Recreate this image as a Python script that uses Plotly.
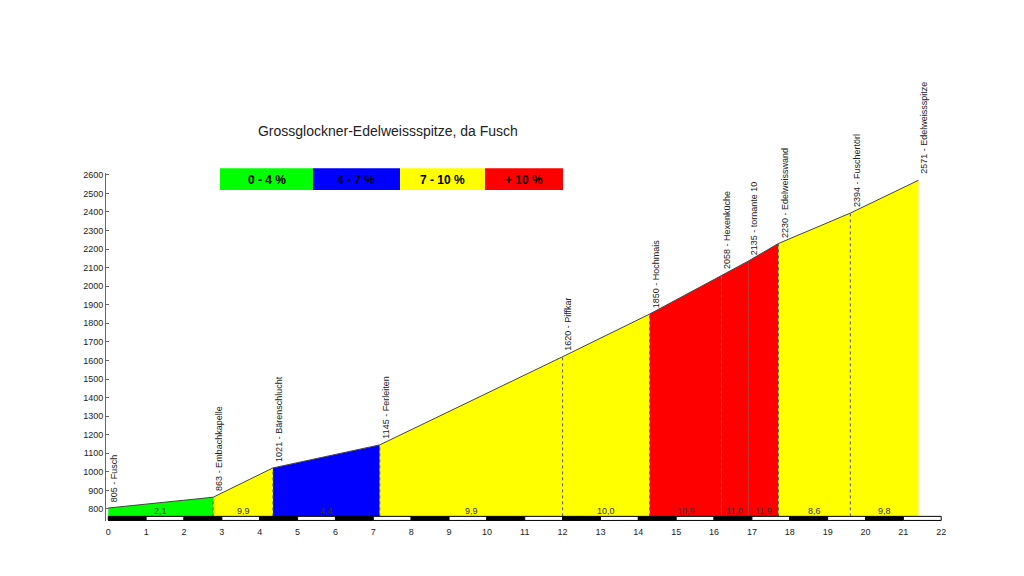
import plotly.graph_objects as go

# --- data ---
km = [0, 2.77, 4.35, 7.17, 12.0, 14.3, 16.2, 16.9, 17.7, 19.6, 21.4]
alt = [805, 863, 1021, 1145, 1620, 1850, 2058, 2135, 2230, 2394, 2571]
places = ["Fusch", "Embachkapelle", "Bärenschlucht", "Ferleiten", "Piffkar", "Hochmais",
          "Hexenküche", "tornante 10", "Edelweisswand", "Fuschertörl", "Edelweissspitze"]
grades = ["2,1", "9,9", "4,4", "9,9", "10,0", "10,9", "11,0", "11,9", "8,6", "9,8"]
seg_class = [0, 2, 1, 2, 2, 3, 3, 3, 2, 2]

class_colors = ["#00ff00", "#0000ff", "#ffff00", "#ff0000"]
class_labels = ["0 - 4 %", "4 - 7 %", "7 - 10 %", "+ 10 %"]
base = 760
x_ticks = list(range(0, 23))
y_ticks = list(range(800, 2700, 100))

fig = go.Figure()

# coloured segments
for i in range(len(grades)):
    fig.add_trace(go.Scatter(
        x=[km[i], km[i], km[i + 1], km[i + 1], km[i]],
        y=[base, alt[i], alt[i + 1], base, base],
        fill="toself", fillcolor=class_colors[seg_class[i]],
        mode="lines", line=dict(width=0), hoverinfo="skip", showlegend=False))

# profile line
fig.add_trace(go.Scatter(x=km, y=alt, mode="lines", line=dict(color="#444", width=1),
                         showlegend=False, hoverinfo="skip"))

# dotted separators
for k, a in zip(km[1:-1], alt[1:-1]):
    fig.add_shape(type="line", x0=k, x1=k, y0=base, y1=a,
                  line=dict(color="#555", width=1, dash="dot"))

# km scale bar
for k in x_ticks[:-1]:
    fig.add_shape(type="rect", x0=k, x1=k + 1, y0=738, y1=base,
                  fillcolor="black" if k % 2 == 0 else "white",
                  line=dict(color="black", width=1))

# gradient labels
for i, g in enumerate(grades):
    fig.add_annotation(x=(km[i] + km[i + 1]) / 2, y=790, text=g, showarrow=False,
                       font=dict(size=9, color="#333"))

# place labels
for k, a, p in zip(km, alt, places):
    fig.add_annotation(x=k, y=a, text=f"{a} - {p}", textangle=-90, showarrow=False,
                       xanchor="left", yanchor="bottom", yshift=4, xshift=-1,
                       font=dict(size=9, color="#222"))

# gradient legend boxes
box_edges = [0.1359, 0.2467, 0.3504, 0.4517, 0.5447]
for i, lab in enumerate(class_labels):
    fig.add_shape(type="rect", xref="paper", yref="paper",
                  x0=box_edges[i], x1=box_edges[i + 1], y0=0.951, y1=1.014,
                  fillcolor=class_colors[i], line=dict(width=0))
    fig.add_annotation(xref="paper", yref="paper", x=(box_edges[i] + box_edges[i + 1]) / 2,
                       y=0.979, text=f"<b>{lab}</b>", showarrow=False,
                       xanchor="center", yanchor="middle",
                       font=dict(size=12, color="black"))

# page body has an 8px margin, so the plot area is nudged up/left by that much
fig.update_layout(
    width=1024, height=576,
    paper_bgcolor="white", plot_bgcolor="white",
    margin=dict(l=98, r=87, t=165, b=63),
    font=dict(family="Liberation Sans, Arial", color="#222"),
    title=dict(text="Grossglockner-Edelweissspitze, da Fusch", x=0.371, xanchor="center",
               y=0.787, yanchor="middle", font=dict(size=14, color="#222")),
)
fig.update_xaxes(range=[-0.06, 22.1], tickvals=x_ticks, showgrid=False, zeroline=False,
                 showline=False, ticks="", ticklabelstandoff=4,
                 tickfont=dict(size=9, color="#222"))
fig.update_yaxes(range=[735, 2610], tickvals=y_ticks, showgrid=False, zeroline=False,
                 showline=True, linecolor="#666", linewidth=1, ticks="inside", ticklen=3,
                 tickcolor="#666", tickfont=dict(size=9, color="#222"))

fig.write_html("out.html")
